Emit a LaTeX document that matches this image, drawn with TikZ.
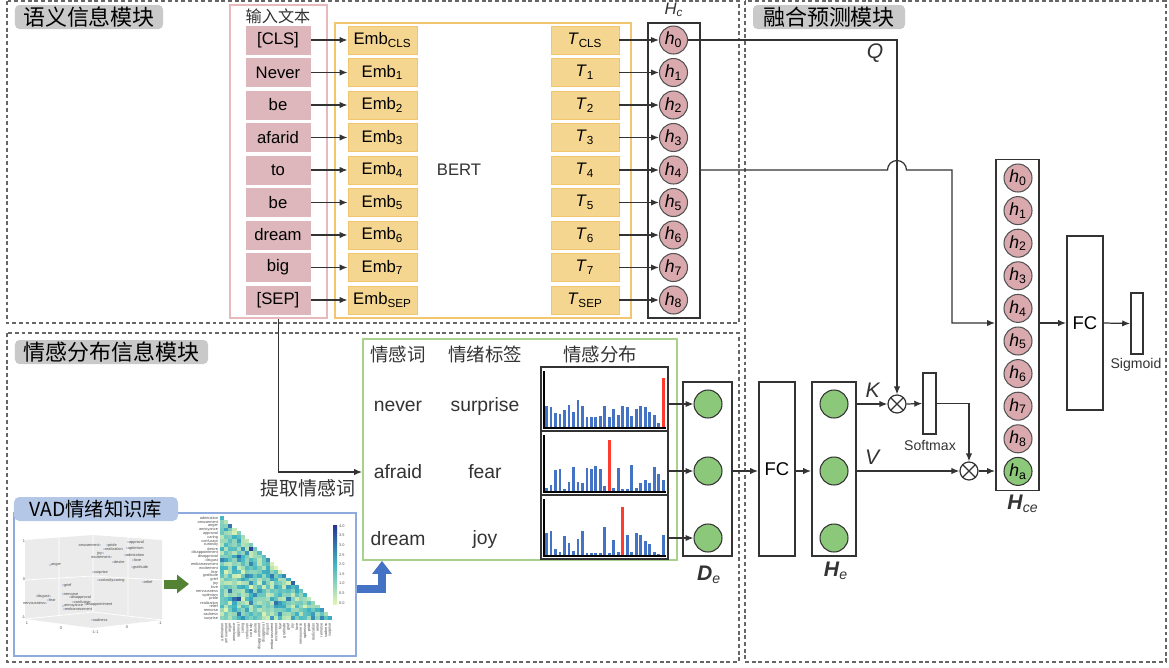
\documentclass[tikz,border=0pt]{standalone}
\usepackage{fontspec}
\setmainfont{Liberation Sans}
\newfontfamily\cjk{Noto Sans CJK SC}
\usetikzlibrary{arrows.meta}
\usetikzlibrary{calc}
\usetikzlibrary{positioning}
\definecolor{ink}{HTML}{333333}
\definecolor{wordpink}{HTML}{DDB7BB}
\definecolor{inpink}{HTML}{E6B9BD}
\definecolor{embfill}{HTML}{F5D690}
\definecolor{embline}{HTML}{F2C66E}
\definecolor{hpink}{HTML}{D9A9AE}
\definecolor{egreen}{HTML}{8CC87A}
\definecolor{gline}{HTML}{A9D18E}
\definecolor{barblue}{HTML}{4472C4}
\definecolor{barred}{HTML}{FF3B30}
\definecolor{vadfill}{HTML}{B4C7E7}
\definecolor{vadline}{HTML}{8FAADC}
\definecolor{arrgreen}{HTML}{548235}
\definecolor{hmyel}{HTML}{E3F4B1}
\definecolor{hmteal}{HTML}{41B6C4}
\definecolor{hmnavy}{HTML}{253494}
\newcommand{\fsz}[1]{\fontsize{#1}{#1}\selectfont}

\tikzset{
  conn/.style={draw=ink, line width=0.7pt},
  arr/.style={conn, -{Latex[length=4.5pt,width=3.6pt]}},
  region/.style={draw=gray!80!black, line width=0.6pt, dash pattern=on 2.2pt off 1.6pt},
  modtitle/.style={fill=gray!42, rounded corners=2.5pt, minimum height=4.8mm, inner sep=0pt, font=\cjk\fsz{12.5}},
  lbl/.style={inner sep=0pt, text=ink},
  word/.style={fill=wordpink, minimum width=13mm, minimum height=5.8mm, inner sep=0pt, font=\fsz{9.5}},
  embbox/.style={fill=embfill, draw=embline, line width=0.5pt, minimum width=13.8mm, minimum height=5.6mm, inner sep=0pt, font=\fsz{9.5}},
  hnode/.style={circle, fill=hpink, draw=ink!85, line width=0.6pt, minimum size=5.6mm, inner sep=0pt, font=\fsz{10}},
  enode/.style={circle, fill=egreen, draw=ink, line width=0.6pt, minimum size=5.6mm, inner sep=0pt, font=\fsz{10}},
  layer/.style={draw=ink, line width=1pt, minimum width=#1, minimum height=34.8mm, inner sep=0pt},
  chart/.style={draw=ink, line width=0.8pt, minimum width=25.4mm, minimum height=12.8mm, inner sep=0pt},
  bar/.style={line width=0.55mm},
  otimes/.style={circle, draw=ink, fill=white, line width=0.7pt, minimum size=3.6mm, inner sep=0pt,
    path picture={\draw[ink, line width=0.7pt] (path picture bounding box.center) +(45:1.8mm) -- +(225:1.8mm)
      (path picture bounding box.center) +(135:1.8mm) -- +(-45:1.8mm);}},
  tiny/.style={inner sep=0.4pt, font=\fsz{2.2}, text=black!70},
  bluearr/.style={draw=barblue, line width=1.6mm, line join=miter, -{Triangle[length=2.6mm,width=3.8mm]}}
}

\begin{document}
\begin{tikzpicture}[x=0.2mm, y=-0.2mm]
  \useasboundingbox (0,0) rectangle (1169,667);

  % module frames
  \draw[region] (7,1) rectangle (739,323);
  \draw[region] (7,333) rectangle (739,662);
  \draw[region] (745,1) rectangle (1166,662);
  \node[modtitle, minimum width=29.6mm] (tsem) at (89,17) {语义信息模块};
  \node[modtitle, minimum width=30.4mm] (tfus) at (829,17) {融合预测模块};
  \node[modtitle, minimum width=38.6mm] (temo) at (111.5,352) {情感分布信息模块};

  % input text, BERT, H_c
  \node[draw=inpink, line width=1pt, minimum width=19.4mm, minimum height=62.6mm] (inbox) at (278.5,161.5) {};
  \node[lbl, font=\cjk\fsz{9.2}] (intitle) at (278,16) {输入文本};
  \node[draw=embline, line width=1pt, minimum width=59.2mm, minimum height=59mm] (bertbox) at (483,170.5) {};
  \node[lbl, font=\fsz{9.5}] (bert) at (459,170) {BERT};
  \node[draw=ink, line width=1.1pt, minimum width=10.4mm, minimum height=59mm] (hcbox) at (674,170.5) {};
  \node[lbl, font=\fsz{9.5}] (hclbl) at (674,10) {\textit{H}\textsubscript{\textit{c}}};
  \foreach \w/\s [count=\i from 0] in {{[CLS]}/CLS, Never/1, be/2, afarid/3, to/4, be/5, dream/6, big/7, {[SEP]}/SEP} {
    \pgfmathsetmacro\yy{40+32.5*\i}
    \node[word] (w\i) at (278,\yy) {\w};
    \node[embbox] (e\i) at (382.5,\yy) {Emb\textsubscript{\s}};
    \node[embbox, minimum width=13.6mm] (t\i) at (585,\yy) {\textit{T}\textsubscript{\s}};
    \node[hnode] (hc\i) at (673.5,\yy) {\textit{h}\textsubscript{\i}};
    \draw[arr] (w\i) -- (e\i);
    \draw[arr] (t\i) -- (hc\i);
  }

  % fusion: attention over H_e
  \node[otimes] (otk) at (897,404) {};
  \node[otimes] (otv) at (969,471) {};
  \node[draw=ink, line width=0.9pt, minimum width=2.6mm, minimum height=12.2mm, inner sep=0pt] (smx) at (929.5,403.5) {};
  \node[lbl, font=\fsz{8}] (smxlbl) at (930,445) {Softmax};
  \node[draw=ink, line width=1.1pt, minimum width=8.6mm, minimum height=66.2mm] (cebox) at (1017.5,325) {};
  \foreach \i in {0,...,8}
    \node[hnode] (ce\i) at (1018,178+32.6*\i) {\textit{h}\textsubscript{\i}};
  \node[enode] (ce9) at (1018,471.4) {\textit{h}\textsubscript{a}};
  \node[lbl, font=\fsz{12}] (celbl) at (1023,504) {\textbf{\textit{H}}\textsubscript{\textit{ce}}};
  \node[layer=7.2mm, font=\fsz{10.5}] (fc2) at (1085,323) {FC};
  \node[draw=ink, line width=1pt, minimum width=2.4mm, minimum height=12.2mm, inner sep=0pt] (sig) at (1137,323.5) {};
  \node[lbl, font=\fsz{8}] (siglbl) at (1136,365) {Sigmoid};

  \coordinate (merge) at (952,323);
  \draw[arr] (hc0.east) -- (otk |- hc0) -- (otk.north);
  \node[lbl, font=\fsz{12}] (qlbl) at (875,53) {\textit{Q}};
  \draw[arr] (hcbox.east |- hc4) -- ($(otk |- hc4)+(-9.5,0)$) arc[start angle=180, end angle=0, radius=1.9mm]
    -- (merge |- hc4) -- (merge) -- (cebox.west |- merge);
  \draw[arr] (cebox.east |- fc2) -- (fc2.west);
  \draw[arr] (fc2.east) -- (sig.west);

  % emotion branch: D_e -> FC -> H_e
  \node[layer=9.8mm] (debox) at (707.5,469) {};
  \node[layer=7.2mm, font=\fsz{10.5}] (fc1) at (777,469) {FC};
  \node[layer=8.8mm] (hebox) at (834,469) {};
  \foreach \yy [count=\k] in {404,471,538} {
    \node[enode] (de\k) at (708,\yy) {};
    \node[enode] (he\k) at (834,\yy) {};
  }
  \node[lbl, font=\fsz{12}] (delbl) at (709,575) {\textbf{\textit{D}}\textsubscript{\textit{e}}};
  \node[lbl, font=\fsz{12}] (helbl) at (836,571) {\textbf{\textit{H}}\textsubscript{\textit{e}}};
  \draw[arr] (debox.east |- de2) -- (fc1.west |- de2);
  \draw[arr] (fc1.east |- he2) -- (hebox.west |- he2);
  \draw[arr] (hebox.east |- he1) -- (otk.west);
  \node[lbl, font=\fsz{12}] (klbl) at (873,390) {\textit{K}};
  \draw[arr] (otk.east) -- (smx.west);
  \draw[arr] (smx.east) -- (otv |- smx.east) -- (otv.north);
  \draw[arr] (hebox.east |- he2) -- (otv.west);
  \node[lbl, font=\fsz{12}] (vlbl) at (873,457) {\textit{V}};
  \draw[arr] (otv.east) -- (cebox.west |- otv);

  % emotion words and their distributions
  \node[draw=gline, line width=1pt, minimum width=62.8mm, minimum height=44.2mm] (gbox) at (520,449.5) {};
  \node[lbl, font=\cjk\fsz{10.5}] at (398,354) {情感词};
  \node[lbl, font=\cjk\fsz{10.5}] at (485,354) {情绪标签};
  \node[lbl, font=\cjk\fsz{10.5}] at (600,354) {情感分布};
  \node[lbl, font=\fsz{11}] (never) at (398,406) {never};
  \node[lbl, font=\fsz{11}] at (485,406) {surprise};
  \node[lbl, font=\fsz{11}] (afraid) at (398,472) {afraid};
  \node[lbl, font=\fsz{11}] at (485,472) {fear};
  \node[lbl, font=\fsz{11}] (dream) at (398,539) {dream};
  \node[lbl, font=\fsz{11}] at (485,539) {joy};
  \draw[arr] (inbox.south) |- (gbox.west |- afraid);
  \node[lbl, font=\cjk\fsz{10.8}] (extract) at (308,488) {提取情感词};

  \foreach \k/\yy/\red/\rh/\hts in {
      1/399/26/150/{66,63,45,43,55,68,48,83,65,33,33,33,36,65,33,58,38,65,62,36,56,65,62,48,40,16,0},
      2/463/14/155/{12,20,65,70,10,30,75,30,28,72,68,78,68,18,0,12,72,10,10,80,12,28,35,28,75,55,35},
      3/527/17/147/{68,75,20,12,60,40,15,52,75,8,8,8,8,88,8,48,12,0,62,12,68,62,45,35,12,5,62}} {
    \node[chart] (cb\k) at (604.5,\yy) {};
    \pgfmathsetmacro\base{\yy+29}
    \foreach \h [count=\n from 0] in \hts
      \draw[bar, barblue] (546.5+4.487*\n,\base) -- ++(0,-\h/3);
    \draw[bar, barred] (546.5+4.487*\red,\base) -- ++(0,-\rh/3);
    \draw[line width=1pt, black] (544,\yy-28) -- (544,\base) -- (666,\base);
    \draw[arr] (cb\k.east |- de\k) -- (de\k.west);
  }

  % VAD knowledge base
  \node[draw=vadline, line width=0.8pt, minimum width=68.4mm, minimum height=28.6mm] (vadbox) at (185,584.5) {};
  \node[fill=vadfill, rounded corners=3pt, minimum width=32.8mm, minimum height=4.8mm, inner sep=0pt,
    font=\cjk\fsz{11}] (vadtitle) at (96,509) {VAD情绪知识库};
  \coordinate (vadturn) at (382,589);
  \draw[bluearr] (vadbox.east |- vadturn) -- (vadturn) -- (vadturn |- gbox.south);

  % 3d scatter of the VAD values
  \fill[gray!16] (25,540) -- (93,535) -- (162,540) -- (162,620) -- (93,628) -- (25,619) -- cycle;
  \draw[white, line width=0.4pt] (93,535) -- (93,612) (25,580) -- (93,576) -- (162,580)
    (25,619) -- (93,612) -- (162,620) (59,537) -- (59,615) (128,537) -- (128,615);
  \foreach \t/\yy in {1/541, 0/579, -1/617}
    \node[tiny, anchor=east] at (26,\yy) {\t};
  \foreach \t/\xx/\yy in {1/27/623, 0/61/628, -1-1/95/632, 0/127/627, -1/160/623}
    \node[tiny] at (\xx,\yy) {\t};
  \foreach \px/\py/\l/\a in {100/545/amusement/east, 107/545/pride/west, 104/549/realization/west, 103/553/joy/east,
      111/557/excitement/east, 113/562/desire/west, 128/542/approval/west, 127/548/optimism/west,
      125/555/admiration/west, 133/560/love/west, 132/567/gratitude/west, 50/565/anger/west,
      93/572/surprise/west, 98/580/curiosity/west, 113/580/caring/west, 143/582/relief/west,
      63/585/grief/west, 63/594/remorse/west, 70/597/disapproval/west, 73/602/confusion/west,
      85/604/disappointment/west, 50/596/disgust/east, 48/600/fear/west, 46/603/nervousness/east,
      63/606/annoyance/west, 64/609/embarrassment/west, 92/620/sadness/west} {
    \fill[barblue] (\px,\py) circle (0.35pt);
    \node[tiny, anchor=\a] at (\px,\py) {\l};
  }
  \draw[arrgreen, line width=1.8mm, -{Triangle[length=2.4mm,width=3.6mm]}] (164,584) -- (189,584);

  % correlation heat map
  \pgfmathsetseed{11}
  \foreach \r in {0,...,26} {
    \foreach \c in {0,...,\r} {
      \pgfmathtruncatemacro\v{100*(0.35*rnd+0.65*rnd*rnd)}
      \ifnum\v<45
        \pgfmathtruncatemacro\m{2.2*\v}
        \colorlet{cellc}{hmteal!\m!hmyel}
      \else
        \pgfmathtruncatemacro\m{1.8*(\v-45)}
        \colorlet{cellc}{hmnavy!\m!hmteal}
      \fi
      \fill[cellc] (220+4.15*\c,516+3.85*\r) rectangle ++(4.15,3.85);
    }
  }
  \foreach \e [count=\r from 0] in {admiration,amusement,anger,annoyance,approval,caring,confusion,curiosity,
      desire,disappointment,disapproval,disgust,embarrassment,excitement,fear,gratitude,grief,joy,love,
      nervousness,optimism,pride,realization,relief,remorse,sadness,surprise} {
    \node[tiny, anchor=east] at (219,518+3.85*\r) {\e};
    \node[tiny, anchor=east, rotate=90] at (222+4.15*\r,622) {\e};
  }
  \shade[top color=hmnavy, bottom color=hmyel, middle color=hmteal] (333,525) rectangle (337,604);
  \foreach \t [count=\n from 0] in {4.0,3.5,3.0,2.5,2.0,1.5,1.0,0.5,0.0}
    \node[tiny, anchor=west] at (338,526+9.6*\n) {\t};
\end{tikzpicture}
\end{document}
